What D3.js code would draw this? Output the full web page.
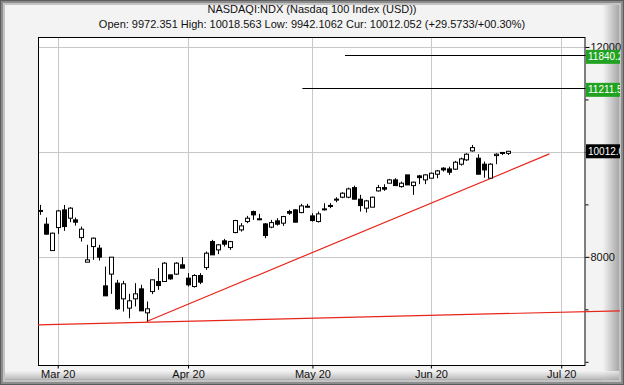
<!DOCTYPE html>
<html><head><meta charset="utf-8">
<script src="https://cdn.jsdelivr.net/npm/d3@7"></script>
<style>html,body{margin:0;padding:0;background:#fff}svg{display:block}</style>
</head><body><div id="chart"></div>
<script>
// ---- data (trading-day index 0 = 26 Feb 2020) ----
const open = [
 8885,8623,8120,8558,8895,8737,8705,8367,7899,8196,
 8166,7447,7671,7499,7200,7023,7200,7390,6933,7339,
 7530,7530,7657,7671,7848,7594,7434,7644,7796,8291,
 8133,8305,8177,8463,8514,8673,8863,8725,8628,8566,
 8686,8642,8863,8895,8844,8965,8781,8673,8905,8980,
 9095,9137,9137,9320,9099,8928,8947,9257,9320,9404,
 9467,9339,9562,9358,9543,9467,9499,9575,9690,9676,
 9671,9766,9848,10019,9880,9766,9499,9930,9990,9972.351];
const high = [
 8990,8749,8463,8895,8990,8947,8749,8577,8229,8368,
 8229,7815,7994,7562,7543,7295,7499,7467,7149,7562,
 7785,7899,7657,7899,7994,7689,7670,7690,8101,8324,
 8242,8343,8305,8705,8642,8781,8882,8820,8642,8705,
 8737,8781,8895,8908,9010,9010,8832,8863,9023,9023,
 9137,9232,9320,9358,9181,9086,9149,9371,9384,9486,
 9499,9434,9562,9434,9562,9575,9606,9657,9709,9720,
 9829,9892,9975,10133,9956,9815,9785,9975,9998,10018.563];
const low = [
 8800,8419,8120,8438,8495,8661,8596,8291,7899,7943,
 7930,7257,7295,6990,6958,6832,7054,6971,6768,7290,
 7371,7530,7562,7657,7785,7434,7415,7480,7752,8038,
 8051,8196,8133,8451,8482,8642,8705,8710,8356,8546,
 8596,8590,8800,8661,8832,8947,8673,8654,8882,8928,
 9042,9118,9118,9099,8863,8844,8947,9244,9257,9404,
 9358,9320,9371,9181,9385,9385,9499,9499,9625,9562,
 9657,9739,9829,10006,9575,9510,9499,9766,9940,9942.106];
const close = [
 8875,8433,8451,8876,8577,8928,8661,8528,7943,8356,
 7994,7257,7994,7010,7486,7162,7295,6971,7010,7562,
 7453,7880,7581,7880,7785,7467,7644,7518,8070,8038,
 8229,8242,8291,8692,8590,8737,8800,8718,8406,8653,
 8623,8768,8832,8661,8971,8958,8692,8819,8915,8975,
 9100,9213,9295,9099,8977,9067,9137,9320,9290,9467,
 9358,9404,9371,9423,9510,9562,9594,9638,9657,9613,
 9804,9867,9956,10082,9575,9657,9766,9956,9982.48,10012.052];

const monthTickIndex = [3, 25, 46, 66, 88];
const monthLabels = ["Mar 20", "Apr 20", "May 20", "Jun 20", "Jul 20"];
const priceTicks = [12000, 10000, 8000];
const priceLabelTicks = [12000, 8000];   // 10000 label is hidden behind the current-price box
const minorPriceTicks = [11000, 9000, 7000, 6000];

// trend lines: [startIndex, startPrice, endIndex, endPrice]
const trendUp = [18, 6768, 86, 9962];
const trendBase = [-0.33, 6705, 98, 6972];

// target levels
const levelValues = [11840.2, 11211.5];
const levelLabels = ["11840.2", "11211.5"];
const levelStartIndex = [51.5, 44.3];

const currentValue = 10012.052;
const currentLabel = "10012.052";
const title = "NASDAQI:NDX (Nasdaq 100 Index (USD))";
const subtitle = "Open: 9972.351 High: 10018.563 Low: 9942.1062 Cur: 10012.052 (+29.5733/+00.30%)";

// ---- drawing ----
const W = 624, H = 385;
const L = 38, R = 585.5, T = 37, B = 366;
const FONT = "Arial, 'Liberation Sans', sans-serif";
const svg = d3.select("#chart").append("svg").attr("width", W).attr("height", H)
  .style("font-family", FONT);

// frame
const defs = svg.append("defs");
const gR = defs.append("linearGradient").attr("id","gR").attr("x1","0").attr("x2","1").attr("y1","0").attr("y2","0");
gR.append("stop").attr("offset","0").attr("stop-color","#f2f2f2");
gR.append("stop").attr("offset","1").attr("stop-color","#a8a8a8");
const gB = defs.append("linearGradient").attr("id","gB").attr("x1","0").attr("x2","0").attr("y1","0").attr("y2","1");
gB.append("stop").attr("offset","0").attr("stop-color","#f2f2f2");
gB.append("stop").attr("offset","1").attr("stop-color","#a8a8a8");
defs.append("clipPath").attr("id","panelClip").append("rect").attr("x",0).attr("y",0).attr("width",620).attr("height",H);

svg.append("rect").attr("width",W).attr("height",H).attr("fill","#5c5c5c");
svg.append("rect").attr("x",1).attr("y",1).attr("width",W-2).attr("height",H-2).attr("fill","#8c8c8c");
svg.append("rect").attr("x",3).attr("y",3).attr("width",W-6).attr("height",H-6).attr("fill","#c4c4c4");
svg.append("rect").attr("x",5).attr("y",5).attr("width",W-11).attr("height",H-11).attr("fill","#f3f3f3");
svg.append("rect").attr("x",603).attr("y",5).attr("width",16).attr("height",H-10).attr("fill","url(#gR)");
svg.append("rect").attr("x",5).attr("y",371).attr("width",W-10).attr("height",9).attr("fill","url(#gB)").attr("opacity",0.8);

// scales
const x = d3.scaleLinear().domain([-0.33, 92.1]).range([L, R]);
const y = d3.scaleLinear().domain([5920, 12190]).range([B, T]);

// plot background
svg.append("rect").attr("x",L).attr("y",T).attr("width",R-L).attr("height",B-T).attr("fill","#fff");

// grid
const grid = svg.append("g").attr("stroke","#c8c8c8").attr("stroke-width",1);
monthTickIndex.forEach(i => {
  const xx = Math.round(x(i)) + 0.5;
  grid.append("line").attr("x1",xx).attr("x2",xx).attr("y1",T).attr("y2",B);
});
priceTicks.forEach(p => {
  const yy = Math.round(y(p)) + 0.5;
  grid.append("line").attr("x1",L).attr("x2",R).attr("y1",yy).attr("y2",yy);
});

// plot border
svg.append("rect").attr("x",L+0.5).attr("y",T+0.5).attr("width",R-L-1).attr("height",B-T-1)
  .attr("fill","none").attr("stroke","#000");

// right axis
const yAxis = d3.axisRight(y).tickValues(priceTicks).tickSize(4)
  .tickFormat(d => priceLabelTicks.includes(d) ? d3.format("d")(d) : "");
const ya = svg.append("g").attr("transform",`translate(${Math.round(R)-0.5},0)`).call(yAxis);
ya.select(".domain").remove();
ya.selectAll("text").filter(function(){ return this.textContent === ""; }).remove();
ya.selectAll("text").attr("font-size",11).attr("fill","#111").attr("x",5).attr("font-family",FONT);
const yMinor = d3.axisRight(y).tickValues(minorPriceTicks).tickSize(3).tickFormat("");
const ym = svg.append("g").attr("transform",`translate(${Math.round(R)-0.5},0)`).call(yMinor);
ym.select(".domain").remove();
ym.selectAll("text").remove();

// bottom axis labels
const xAxis = d3.axisBottom(x).tickValues(monthTickIndex).tickSize(3)
  .tickFormat((d,i) => monthLabels[i]);
const xa = svg.append("g").attr("transform",`translate(0,${B-0.5})`).call(xAxis);
xa.select(".domain").remove();
xa.selectAll("text").attr("font-size",11).attr("fill","#111").attr("dy","0.55em").attr("font-family",FONT);

// level lines
levelValues.forEach((v,i) => {
  const yy = Math.round(y(v)) + 0.5;
  svg.append("line").attr("x1",x(levelStartIndex[i])).attr("x2",R).attr("y1",yy).attr("y2",yy)
    .attr("stroke","#000").attr("stroke-width",1);
});

// trend lines
svg.append("line").attr("x1",x(trendUp[0])).attr("y1",y(trendUp[1])).attr("x2",x(trendUp[2])).attr("y2",y(trendUp[3]))
  .attr("stroke","#e8251a").attr("stroke-width",1.2);
svg.append("line").attr("x1",x(trendBase[0])).attr("y1",y(trendBase[1])).attr("x2",x(trendBase[2])).attr("y2",y(trendBase[3]))
  .attr("stroke","#e8251a").attr("stroke-width",1.2).attr("clip-path","url(#panelClip)");

// candles
const idx = d3.range(open.length);
const cg = svg.append("g");
idx.forEach(i => {
  const cx = Math.round(x(i)) + 0.5;
  const up = close[i] >= open[i];
  cg.append("line").attr("x1",cx).attr("x2",cx).attr("y1",y(high[i])).attr("y2",y(low[i]))
    .attr("stroke","#000").attr("stroke-width",1);
  const top = y(Math.max(open[i],close[i])), bot = y(Math.min(open[i],close[i]));
  const h = Math.max(1, bot - top);
  cg.append("rect").attr("x",cx-2).attr("y",top).attr("width",4).attr("height",h)
    .attr("fill", up ? "#fff" : "#000").attr("stroke","#000").attr("stroke-width",1);
});

// value boxes
const boxes = svg.append("g").attr("clip-path","url(#panelClip)");
levelValues.forEach((v,i) => {
  const yy = y(v) + 1.5;
  boxes.append("rect").attr("x",Math.round(R)).attr("y",yy-7).attr("width",40).attr("height",14).attr("fill","#21a321");
  boxes.append("text").attr("x",Math.round(R)+2).attr("y",yy+3.5).attr("font-size",10).attr("fill","#fff").text(levelLabels[i]);
});
{
  const yy = y(currentValue);
  boxes.append("rect").attr("x",Math.round(R)).attr("y",yy-7).attr("width",40).attr("height",14).attr("fill","#000");
  boxes.append("text").attr("x",Math.round(R)+2).attr("y",yy+3.5).attr("font-size",10).attr("fill","#fff").text(currentLabel);
}

// titles
svg.append("text").attr("x",W/2).attr("y",13).attr("text-anchor","middle").attr("font-size",11).attr("fill","#111").text(title);
svg.append("text").attr("x",W/2).attr("y",28).attr("text-anchor","middle").attr("font-size",11).attr("fill","#111").text(subtitle);
</script></body></html>
